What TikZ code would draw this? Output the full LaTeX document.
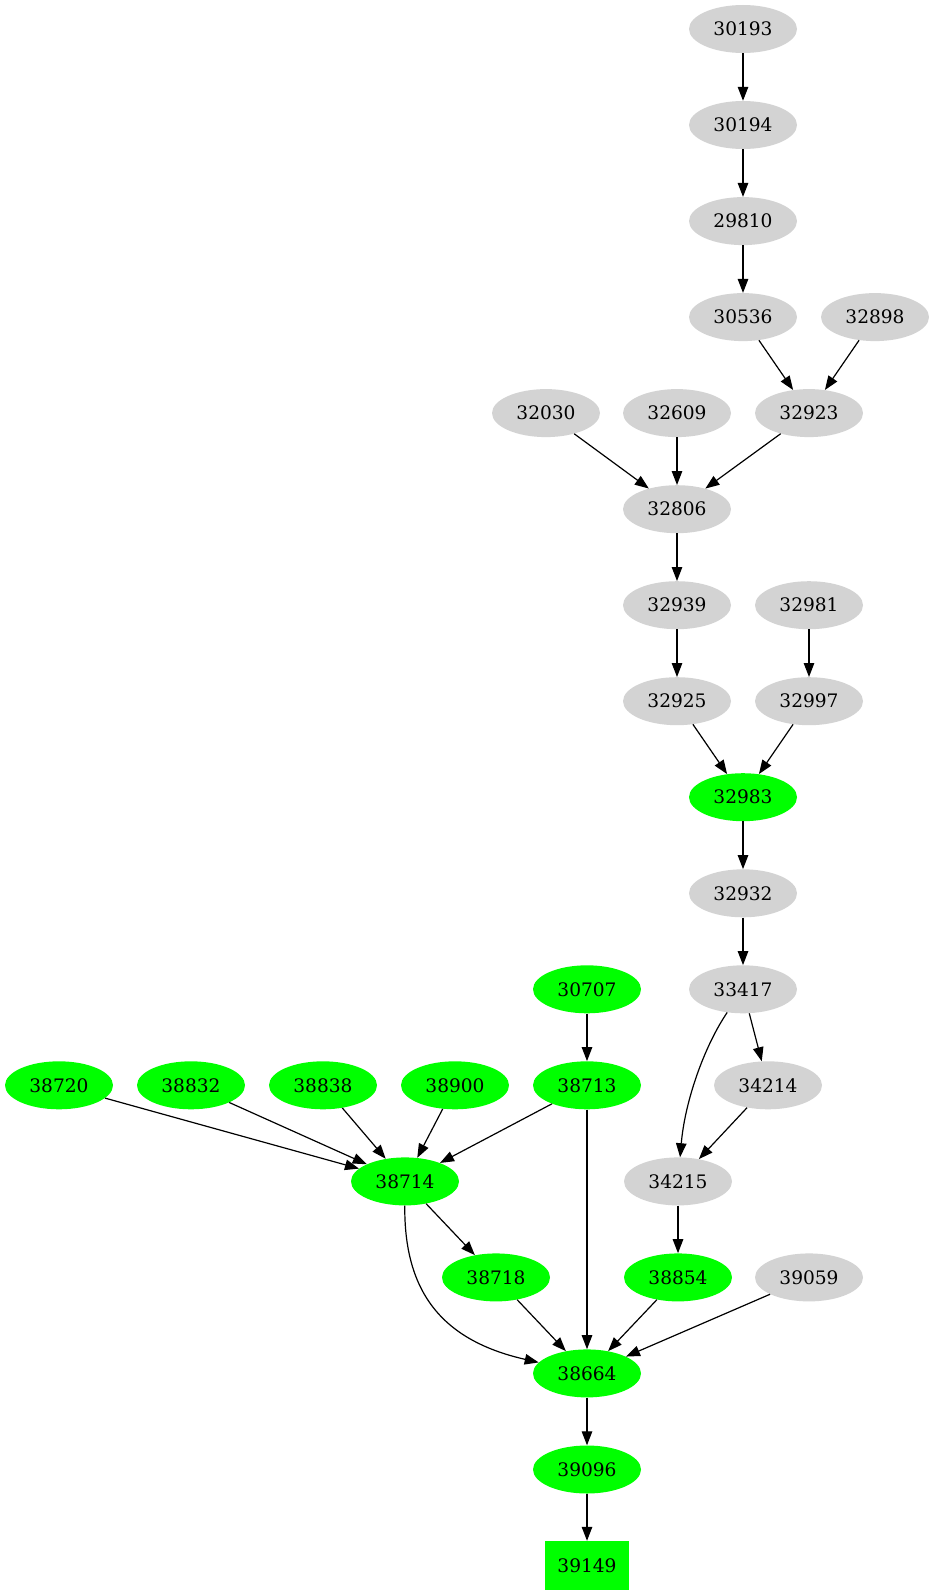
\documentclass[tikz,border=0pt]{standalone}
\usepackage{fontspec}
\setmainfont{DejaVu Serif}
\usetikzlibrary{arrows.meta,shapes.geometric}
\definecolor{lgray}{HTML}{D3D3D3}
\definecolor{vgreen}{HTML}{00FF00}
\tikzset{
  gnode/.style={ellipse, minimum width=108pt, minimum height=48pt, inner sep=0pt, fill=lgray, font=\fontsize{18.6}{22}\selectfont},
  grnode/.style={gnode, fill=vgreen},
  sinkbox/.style={rectangle, minimum width=84pt, minimum height=49pt, inner sep=0pt, fill=vgreen, font=\fontsize{18.6}{22}\selectfont},
  edge/.style={line width=1.2pt, -{Triangle[length=14pt,width=10.5pt]}}
}
\begin{document}
\begin{tikzpicture}[x=1pt,y=-1pt]
\useasboundingbox (0,0) rectangle (934,1595);
% nodes
\node[gnode] (n30193) at (743,29) {30193};
\node[gnode] (n30194) at (743,125) {30194};
\node[gnode] (n29810) at (743,221.1) {29810};
\node[gnode] (n30536) at (743,317.1) {30536};
\node[gnode] (n32898) at (875,317.1) {32898};
\node[gnode] (n32030) at (546,413.1) {32030};
\node[gnode] (n32609) at (677,413.1) {32609};
\node[gnode] (n32923) at (809,413.1) {32923};
\node[gnode] (n32806) at (677,509.2) {32806};
\node[gnode] (n32939) at (677,605.2) {32939};
\node[gnode] (n32981) at (809,605.2) {32981};
\node[gnode] (n32925) at (677,701.2) {32925};
\node[gnode] (n32997) at (809,701.2) {32997};
\node[grnode] (n32983) at (743,797.2) {32983};
\node[gnode] (n32932) at (743,893.3) {32932};
\node[grnode] (n30707) at (587,989.3) {30707};
\node[gnode] (n33417) at (743,989.3) {33417};
\node[grnode] (n38720) at (59,1085.3) {38720};
\node[grnode] (n38832) at (191,1085.3) {38832};
\node[grnode] (n38838) at (323,1085.3) {38838};
\node[grnode] (n38900) at (455,1085.3) {38900};
\node[grnode] (n38713) at (587,1085.3) {38713};
\node[gnode] (n34214) at (768,1085.3) {34214};
\node[grnode] (n38714) at (405,1181.4) {38714};
\node[gnode] (n34215) at (678,1181.4) {34215};
\node[grnode] (n38718) at (496,1277.4) {38718};
\node[grnode] (n38854) at (678,1277.4) {38854};
\node[gnode] (n39059) at (809,1277.4) {39059};
\node[grnode] (n38664) at (587,1373.4) {38664};
\node[grnode] (n39096) at (587,1469.5) {39096};
\node[sinkbox] (n39149) at (587,1565.5) {39149};
% edges
\draw[edge] (n30193) -- (n30194);
\draw[edge] (n30194) -- (n29810);
\draw[edge] (n29810) -- (n30536);
\draw[edge] (n30536) -- (n32923);
\draw[edge] (n32898) -- (n32923);
\draw[edge] (n32030) -- (n32806);
\draw[edge] (n32609) -- (n32806);
\draw[edge] (n32923) -- (n32806);
\draw[edge] (n32806) -- (n32939);
\draw[edge] (n32939) -- (n32925);
\draw[edge] (n32981) -- (n32997);
\draw[edge] (n32925) -- (n32983);
\draw[edge] (n32997) -- (n32983);
\draw[edge] (n32983) -- (n32932);
\draw[edge] (n32932) -- (n33417);
\draw[edge] (n33417) -- (n34214);
\draw[edge] (n33417) .. controls (705,1045) and (685,1100) .. (n34215);
\draw[edge] (n34214) -- (n34215);
\draw[edge] (n34215) -- (n38854);
\draw[edge] (n30707) -- (n38713);
\draw[edge] (n38720) -- (n38714);
\draw[edge] (n38832) -- (n38714);
\draw[edge] (n38838) -- (n38714);
\draw[edge] (n38900) -- (n38714);
\draw[edge] (n38713) -- (n38714);
\draw[edge] (n38714) -- (n38718);
\draw[edge] (n38714) .. controls (404,1290) and (440,1340) .. (n38664);
\draw[edge] (n38713) -- (n38664);
\draw[edge] (n38718) -- (n38664);
\draw[edge] (n38854) -- (n38664);
\draw[edge] (n39059) -- (n38664);
\draw[edge] (n38664) -- (n39096);
\draw[edge] (n39096) -- (n39149);
\end{tikzpicture}
\end{document}
